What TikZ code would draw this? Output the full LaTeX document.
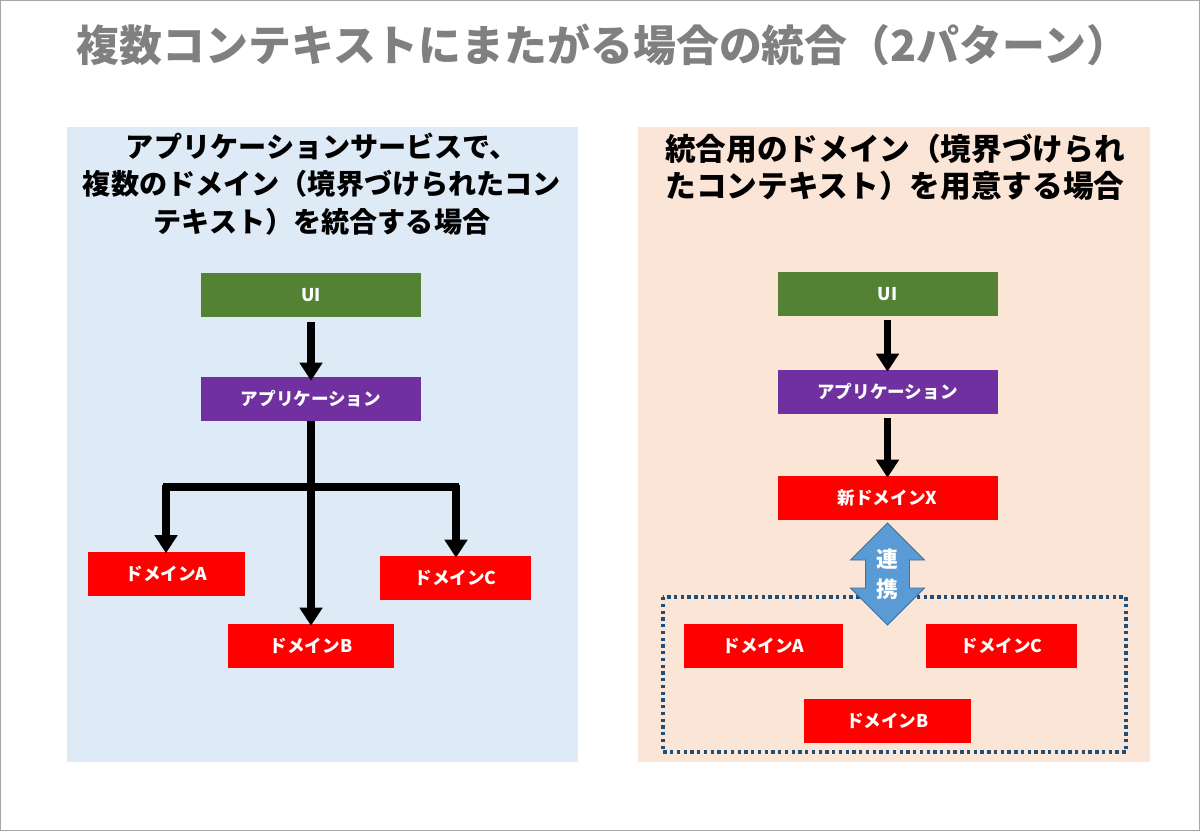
\documentclass[tikz,border=0pt]{standalone}
\usepackage{fontspec}
\setmainfont{Noto Sans CJK JP}
\usetikzlibrary{arrows.meta,shapes.arrows}
\definecolor{titlegray}{HTML}{808080}
\definecolor{paneblue}{HTML}{DEEAF6}
\definecolor{panepeach}{HTML}{FBE5D6}
\definecolor{uigreen}{HTML}{548235}
\definecolor{apppurple}{HTML}{7030A0}
\definecolor{domred}{HTML}{FF0000}
\definecolor{linkblue}{HTML}{5B9BD5}
\definecolor{linkedge}{HTML}{41719C}
\definecolor{dotblue}{HTML}{1F4E79}
\tikzset{
  box/.style={minimum width=#1*0.025cm, minimum height=44*0.025cm, inner sep=0pt,
    text=white, font=\fontsize{12.5}{14}\selectfont\bfseries},
  uibox/.style={box=220, fill=uigreen},
  appbox/.style={box=220, fill=apppurple},
  dombox/.style={box=#1, fill=domred},
  flow/.style={line width=5.5pt, -{Triangle[width=0.55cm,length=0.45cm]}},
  bar/.style={line width=5.5pt},
  heading/.style={align=center, font=\fontsize{#1}{26.5}\selectfont\bfseries},
}
\begin{document}
\begin{tikzpicture}[x=0.025cm, y=-0.025cm]
\useasboundingbox (0,0) rectangle (1200,831);
\draw[titlegray!70, line width=0.7pt] (0.5,0.5) rectangle (1199.5,830.5);
\node[text=titlegray, font=\fontsize{30.5}{36}\selectfont\bfseries] (title) at (603,45) {複数コンテキストにまたがる場合の統合（2パターン）};

% left pane: application service integrates the domains
\fill[paneblue] (67,127) rectangle (578,762);
\node[heading=20] (lhead) at (322,184) {アプリケーションサービスで、\\複数のドメイン（境界づけられたコン\\テキスト）を統合する場合};
\node[uibox] (lui) at (311,295) {UI};
\node[appbox] (lapp) at (311,399) {アプリケーション};
\node[dombox=157] (lda) at (166.5,573.5) {ドメインA};
\node[dombox=166] (ldb) at (311,646) {ドメインB};
\node[dombox=151] (ldc) at (455.5,578) {ドメインC};
\draw[flow] (lui.south) ++(0,5) -- ([yshift=-0.1cm]lapp.north);
\coordinate (lsplit) at (311,487);
\draw[bar] (lapp.south) -- (lsplit);
\draw[bar] (163,487) -- (459,487);
\draw[flow] (166,485) -- ([yshift=-0.05cm]lda.north -| 166,0);
\draw[flow] (lsplit) -- ([yshift=-0.05cm]ldb.north);
\draw[flow] (456,485) -- ([yshift=-0.05cm]ldc.north -| 456,0);

% right pane: a dedicated integration domain
\fill[panepeach] (638,127) rectangle (1150,762);
\node[heading=21.8] (rhead) at (895,167) {統合用のドメイン（境界づけられ\\たコンテキスト）を用意する場合};
\node[uibox] (rui) at (887.5,294) {UI};
\node[appbox] (rapp) at (887.5,392) {アプリケーション};
\node[dombox=220] (rnew) at (887.5,498) {新ドメインX};
\draw[flow] (rui.south) ++(0,4) -- ([yshift=-0.05cm]rapp.north);
\draw[flow] (rapp.south) ++(0,4) -- ([yshift=-0.05cm]rnew.north);
\draw[dotblue, line width=2.4pt, dash pattern=on 2.4pt off 2.4pt] (663,597) rectangle (1126,752);
\node[dombox=159] (rda) at (763.5,645.5) {ドメインA};
\node[dombox=151] (rdc) at (1001.5,645.5) {ドメインC};
\node[dombox=167] (rdb) at (887.5,721) {ドメインB};
\node[draw=linkedge, fill=linkblue, line width=0.6pt, double arrow, shape border rotate=90,
  double arrow head extend=0.3cm, minimum width=1.85cm, minimum height=2.55cm, inner sep=0pt,
  text width=0.85cm, align=center, text=white, font=\fontsize{15.5}{21}\selectfont\bfseries]
  (link) at (887.5,574) {連\\携};
\end{tikzpicture}
\end{document}
